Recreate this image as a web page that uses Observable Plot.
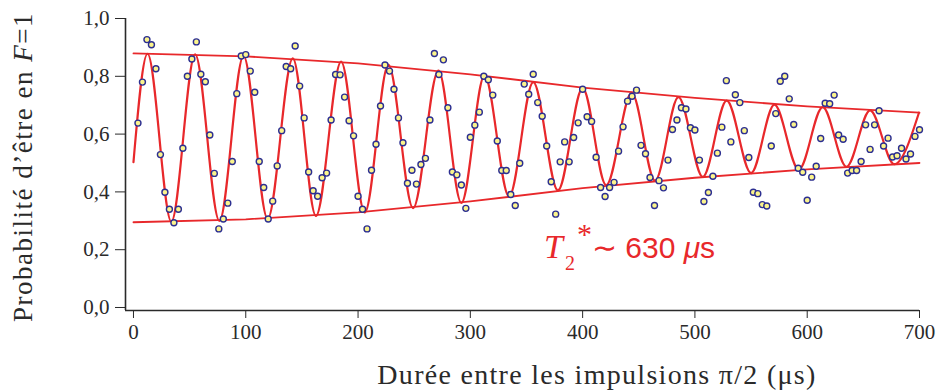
<!DOCTYPE html>
<html><head><meta charset="utf-8">
<script src="https://cdn.jsdelivr.net/npm/d3@7"></script>
<script src="https://cdn.jsdelivr.net/npm/@observablehq/plot@0.6"></script>
<style>
html,body{margin:0;padding:0;background:#fff;}
#chart svg{display:block;background:#fff;}
#chart svg, #chart svg text{font-family:'Liberation Serif','Times New Roman',serif !important;}
#chart svg .sans{font-family:'Liberation Sans',Arial,sans-serif !important;}
</style>
</head><body><div id="chart"></div>
<script>
// Measured points: pulse separation (µs) and probability to be in F=1
const timeUs = [4,8,12,16,20,24,28,32,36,40,44,48,52,56,60,64,68,72,76,80,84,88,92,96,100,104,108,112,116,
120,124,128,132,136,140,144,148,152,156,160,164,168,172,176,180,184,188,192,196,200,204,208,212,216,220,224,228,232,
236,240,244,248,252,256,260,264,268,272,276,280,284,288,292,296,300,304,308,312,316,320,324,328,332,336,340,344,348,
352,356,360,364,368,372,376,380,384,388,392,396,400,404,408,412,416,420,424,428,432,436,440,444,448,452,456,460,464,
468,472,476,480,484,488,492,496,500,504,508,512,516,520,524,528,532,536,540,544,548,552,556,560,564,568,572,576,580,
584,588,592,596,600,604,608,612,616,620,624,628,632,636,640,644,648,652,656,660,664,668,672,676,680,684,688,692,696,700];
const probF1 = [0.638,0.780,0.927,0.909,0.826,0.529,0.399,0.340,0.293,0.340,0.551,0.800,0.860,0.919,0.807,0.781,0.597,0.464,0.272,0.306,0.361,0.505,0.740,0.870,0.875,0.818,0.745,0.505,0.415,
0.306,0.368,0.490,0.612,0.834,0.826,0.905,0.766,0.656,0.469,0.404,0.385,0.449,0.465,0.649,0.806,0.805,0.728,0.646,0.594,0.385,0.340,0.272,0.475,0.565,0.697,0.839,0.818,0.755,
0.656,0.570,0.430,0.475,0.427,0.495,0.516,0.649,0.879,0.806,0.857,0.691,0.469,0.459,0.424,0.343,0.589,0.631,0.676,0.800,0.788,0.735,0.576,0.474,0.474,0.391,0.353,0.499,0.773,
0.738,0.807,0.709,0.662,0.559,0.435,0.323,0.504,0.573,0.504,0.588,0.639,0.755,0.660,0.644,0.520,0.415,0.384,0.415,0.433,0.541,0.625,0.714,0.731,0.752,0.561,0.532,0.450,0.353,
0.439,0.414,0.510,0.616,0.649,0.691,0.687,0.622,0.614,0.510,0.367,0.398,0.454,0.534,0.624,0.785,0.573,0.736,0.709,0.612,0.519,0.399,0.394,0.356,0.351,0.559,0.671,0.783,0.800,
0.722,0.633,0.482,0.468,0.371,0.451,0.489,0.585,0.707,0.705,0.735,0.597,0.582,0.465,0.474,0.474,0.505,0.632,0.547,0.632,0.681,0.559,0.586,0.521,0.525,0.551,0.514,0.531,0.592,0.615];

// Fitted fringe: start point, then successive maxima / minima
const fitX = [0,12.5,33.7,54.9,76.5,98,119.5,141.9,162.5,184.9,206,227,249,271.6,292,312.6,334.5,356,378,400,421,443.7,464.5,485.3,507,528.3,550,570.8,592.5,613.8,635,656,677.5,699.5];
const fitY = [0.503,0.878,0.297,0.876,0.300,0.871,0.307,0.862,0.317,0.851,0.329,0.840,0.344,0.820,0.362,0.803,0.384,0.780,0.405,0.759,0.423,0.743,0.439,0.728,0.452,0.716,0.465,0.702,0.477,0.693,0.487,0.682,0.496,0.674];

// Decay envelope
const envX = [0,100,200,300,400,500,600,700];
const envUpper = [0.879,0.869,0.845,0.807,0.761,0.725,0.696,0.674];
const envLower = [0.295,0.305,0.329,0.367,0.413,0.449,0.478,0.500];

// Axes
const xTicks = [0,100,200,300,400,500,600,700];
const xTickLabels = ["0","100","200","300","400","500","600","700"];
const yTicks = [0,0.2,0.4,0.6,0.8,1.0];
const yTickLabels = ["0,0","0,2","0,4","0,6","0,8","1,0"];
const xMin = -7.1, yMin = -0.0104;

const points = timeUs.map((t, i) => ({t, p: probF1[i]}));
const fit = fitX.map((t, i) => ({t, p: fitY[i]}));
const env = envX.flatMap((t, i) => [{t, p: envUpper[i], s: "up"}, {t, p: envLower[i], s: "low"}]);

const RED = "#e8282b";
const INK = "#2a2a2a";
const plot = Plot.plot({
  width: 936, height: 392,
  marginLeft: 125, marginRight: 17, marginTop: 18, marginBottom: 82,
  style: {"font-size": "21px", color: INK, background: "white", overflow: "visible"},
  x: {domain: [xMin, 700], ticks: xTicks, tickFormat: d => xTickLabels[xTicks.indexOf(d)], tickSize: 8, tickPadding: 6, label: null},
  y: {domain: [yMin, 1.0], ticks: yTicks, tickFormat: d => yTickLabels[yTicks.indexOf(d)], tickSize: 10, tickPadding: 6, label: null},
  marks: [
    Plot.ruleX([xMin], {stroke: INK, strokeWidth: 1.6}),
    Plot.ruleY([yMin], {stroke: INK, strokeWidth: 1.6}),
    Plot.line(env, {x: "t", y: "p", z: "s", stroke: RED, strokeWidth: 1.8}),
    Plot.line(fit, {x: "t", y: "p", curve: "monotone-x", stroke: RED, strokeWidth: 2.2}),
    Plot.dot(points, {x: "t", y: "p", r: 3, fill: "#fbf48c", stroke: "#2c2f91", strokeWidth: 1.4})
  ]
});
document.getElementById("chart").appendChild(plot);

const svg = d3.select(plot);
const sx = plot.scale("x"), sy = plot.scale("y");

// x axis title
svg.append("text")
  .attr("x", 597).attr("y", 384)
  .attr("text-anchor", "middle")
  .style("font-size", "28px").style("letter-spacing", "1.3px").attr("fill", INK)
  .text("Durée entre les impulsions π/2 (μs)");
// y axis title
const yt = svg.append("text")
  .attr("transform", "translate(32,167) rotate(-90)")
  .attr("text-anchor", "middle")
  .style("font-size", "27px").style("letter-spacing", "1.5px").attr("fill", INK);
yt.append("tspan").text("Probabilité d’être en ");
yt.append("tspan").style("font-style", "italic").text("F");
yt.append("tspan").text("=1");

// annotation T2* ~ 630 µs
const ax = sx.apply(366), ay = sy.apply(0.17);
const ann = svg.append("g").attr("fill", RED).attr("text-anchor", "start");
ann.append("text").attr("x", ax).attr("y", ay).style("font-size", "34px").style("font-style", "italic").text("T");
ann.append("text").attr("x", ax + 21).attr("y", ay + 12).style("font-size", "20px").text("2");
ann.append("text").attr("x", ax + 33).attr("y", ay - 14).style("font-size", "30px").text("*");
ann.append("text").attr("class", "sans").attr("x", ax + 48).attr("y", ay).style("font-size", "30px")
  .call(t => {
    t.append("tspan").text("∼ 630 ");
    t.append("tspan").style("font-style", "italic").text("μ");
    t.append("tspan").text("s");
  });
</script>
</body></html>
